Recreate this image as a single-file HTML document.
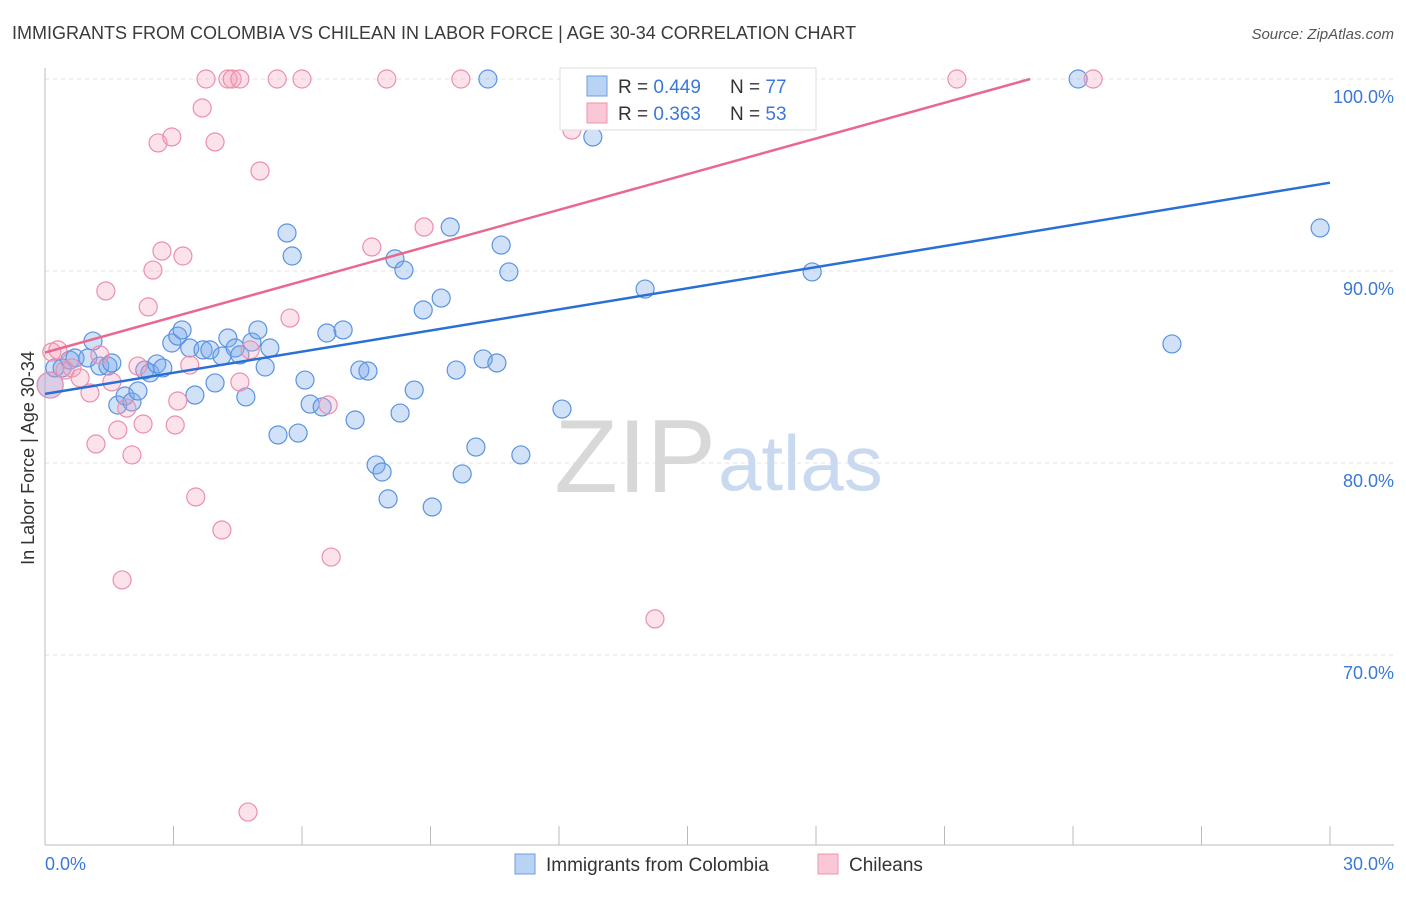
<!DOCTYPE html>
<html><head><meta charset="utf-8">
<style>
body{margin:0;background:#fff;font-family:"Liberation Sans",sans-serif;}
svg text{font-family:"Liberation Sans",sans-serif;}
</style></head>
<body>
<svg id="chart" width="1406" height="892" viewBox="0 0 1406 892">
<text x="12" y="39" font-size="18" fill="#3a3a3a">IMMIGRANTS FROM COLOMBIA VS CHILEAN IN LABOR FORCE | AGE 30-34 CORRELATION CHART</text>
<text x="1394" y="39" font-size="15" fill="#555" font-style="italic" text-anchor="end">Source: ZipAtlas.com</text>
<g id="grid"></g>
<text x="716" y="492" font-size="104" fill="#d8d8d8" text-anchor="end" font-family="Liberation Serif">ZIP</text>
<text x="718" y="490" font-size="78" fill="#c9d9f0">atlas</text>
<g id="pts"></g>
<g id="lines"></g>
<text transform="translate(34,458) rotate(-90)" font-size="18" fill="#333" text-anchor="middle">In Labor Force | Age 30-34</text>
<text x="45" y="870" font-size="18" fill="#3b78d8">0.0%</text>
<text x="1394" y="870" font-size="18" fill="#3b78d8" text-anchor="end">30.0%</text>
<g>
<rect x="560" y="68" width="256" height="62" fill="#fff" stroke="#ddd"/>
<rect x="587" y="76" width="20" height="20" fill="#b9d3f5" stroke="#6a9ee6"/>
<rect x="587" y="103" width="20" height="20" fill="#f9c7d6" stroke="#ee93ad"/>
<text x="618" y="93" font-size="19" fill="#333">R = <tspan fill="#3b78d8">0.449</tspan><tspan x="730">N = </tspan><tspan fill="#3b78d8">77</tspan></text>
<text x="618" y="120" font-size="19" fill="#333">R = <tspan fill="#3b78d8"> 0.363</tspan><tspan x="730">N = </tspan><tspan fill="#3b78d8">53</tspan></text>
</g>
<g>
<rect x="515" y="854" width="20" height="20" fill="#b9d3f5" stroke="#6a9ee6"/>
<text x="546" y="871" font-size="19" fill="#333">Immigrants from Colombia</text>
<rect x="818" y="854" width="20" height="20" fill="#f9c7d6" stroke="#ee93ad"/>
<text x="849" y="871" font-size="19" fill="#333">Chileans</text>
</g>
</svg>
<script>
const yTicks=[100,90,80,70];
const xTicks=[0,3,6,9,12,15,18,21,24,27,30];
const blueX=[0.12,0.23,0.4,0.58,0.7,1.0,1.12,1.28,1.47,1.56,1.7,1.87,2.03,2.17,2.33,2.45,2.61,2.75,2.96,3.1,3.2,3.38,3.5,3.69,3.85,3.97,4.13,4.27,4.44,4.55,4.69,4.83,4.97,5.14,5.25,5.44,5.65,5.77,5.91,6.07,6.19,6.47,6.58,6.96,7.24,7.35,7.54,7.73,7.87,8.01,8.17,8.29,8.38,8.62,8.83,9.04,9.25,9.46,9.6,9.74,10.06,10.23,10.34,10.55,10.65,10.83,11.11,12.07,12.79,14.01,15.29,16.58,17.91,24.12,26.31,29.77];
const blueY=[84.06,84.95,84.95,85.36,85.47,85.47,86.35,85.05,85.05,85.21,83.02,83.49,83.18,83.75,84.84,84.69,85.16,84.95,86.25,86.61,86.93,85.99,83.54,85.89,85.89,84.17,85.57,86.51,85.99,85.63,83.44,86.3,86.93,85.0,85.99,81.46,91.98,90.78,81.56,84.32,83.07,82.92,86.77,86.93,82.24,84.84,84.79,79.9,79.53,78.13,90.63,82.6,90.05,83.8,87.97,77.71,88.59,92.29,84.84,79.43,80.83,85.42,100,85.21,91.35,89.95,80.42,82.81,96.98,89.06,100,100,89.95,100,86.2,92.24];
const pinkX=[0.12,0.16,0.3,0.47,0.63,0.82,1.05,1.19,1.28,1.42,1.56,1.7,1.8,1.91,2.03,2.17,2.29,2.41,2.52,2.64,2.73,2.96,3.04,3.1,3.22,3.38,3.52,3.67,3.76,3.97,4.13,4.27,4.37,4.55,4.55,4.74,4.79,5.02,5.42,5.72,6.0,6.61,6.68,7.63,7.98,8.85,9.71,12.3,14.24,21.29,24.47];
const pinkY=[84.06,85.78,85.89,84.84,84.95,84.43,83.65,80.99,85.63,88.96,84.22,81.72,73.91,82.86,80.42,85.05,82.03,88.13,90.05,96.67,91.04,96.98,81.98,83.23,90.78,85.1,78.23,98.49,100,96.72,76.51,100,100,100,84.22,61.82,85.89,95.21,100,87.55,100,83.02,75.1,91.25,100,92.29,100,97.34,71.88,100,100];
const blueLine=[[0,83.6],[30,94.6]];
const pinkLine=[[0,85.75],[23,100]];
const X=v=>45+v*42.833, Y=v=>79+(100-v)*19.2;
const NS='http://www.w3.org/2000/svg';
function mk(t,a,p){const e=document.createElementNS(NS,t);for(const k in a)e.setAttribute(k,a[k]);p.appendChild(e);return e;}
const grid=document.getElementById('grid');
yTicks.forEach(v=>{
 const l=mk('line',{x1:45,x2:1394,y1:Y(v),y2:Y(v),stroke:'#e3e3e3','stroke-dasharray':'4,4'},grid);
 
 
 const t=mk('text',{x:1394,y:Y(v)+24,'font-size':18,fill:'#3b78d8','text-anchor':'end'},grid);
 t.textContent=v.toFixed(1)+'%';
 
 
});
const ax=mk('line',{x1:45,x2:45,y1:68,y2:845,stroke:'#bbb'},grid);


const bx=mk('line',{x1:45,x2:1394,y1:845,y2:845,stroke:'#bbb'},grid);


xTicks.forEach(v=>{
 const l=mk('line',{x1:X(v),x2:X(v),y1:826,y2:845,stroke:'#bbb'},grid);
 
 
});
const pts=document.getElementById('pts');
blueX.forEach((x,i)=>{
 const c=mk('circle',{cx:X(x),cy:Y(blueY[i]),r:i==0?13:9,fill:'rgba(120,170,235,0.35)',stroke:'#5b93e0','stroke-width':1.2},pts);
 
 
});
pinkX.forEach((x,i)=>{
 const c=mk('circle',{cx:X(x),cy:Y(pinkY[i]),r:i==0?13:9,fill:'rgba(245,160,185,0.3)',stroke:'#ec8fab','stroke-width':1.2},pts);
 
 
});
const lines=document.getElementById('lines');
const bl=mk('line',{x1:X(blueLine[0][0]),y1:Y(blueLine[0][1]),x2:X(blueLine[1][0]),y2:Y(blueLine[1][1]),stroke:'#2a6fd6','stroke-width':2.5},lines);


const pl=mk('line',{x1:X(pinkLine[0][0]),y1:Y(pinkLine[0][1]),x2:X(pinkLine[1][0]),y2:Y(pinkLine[1][1]),stroke:'#e8688f','stroke-width':2.5},lines);


</script>
</body></html>
